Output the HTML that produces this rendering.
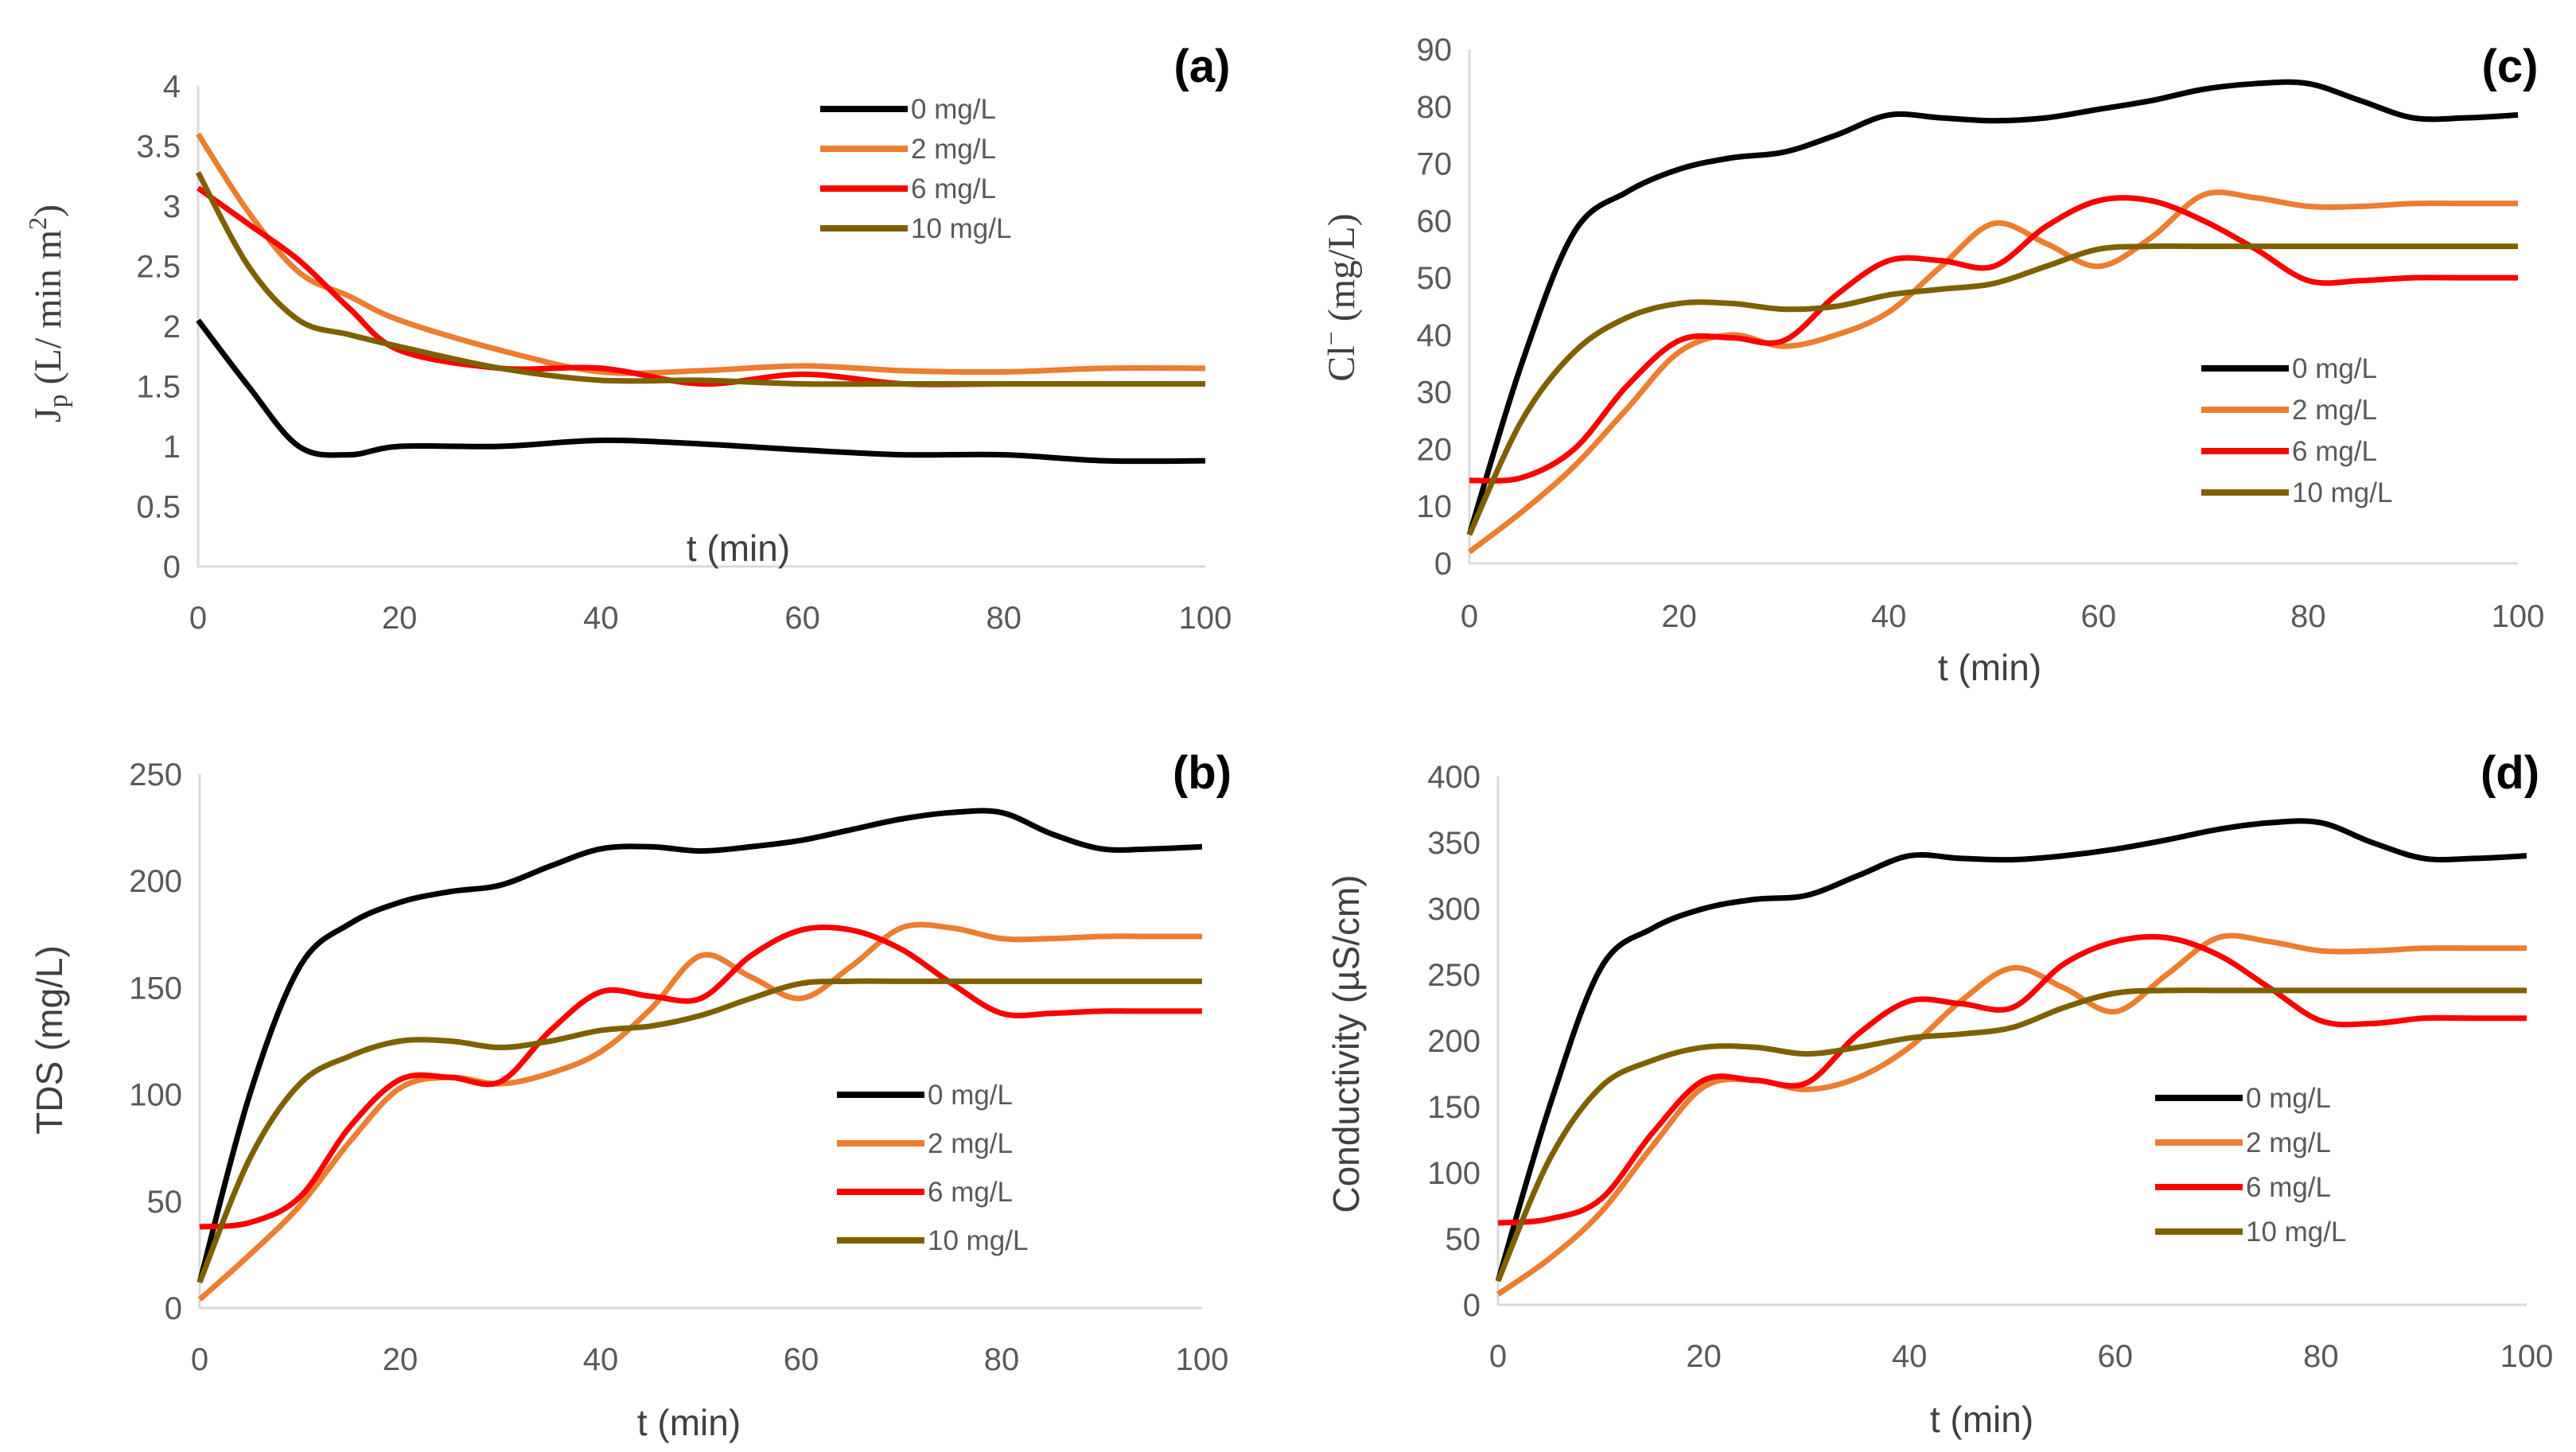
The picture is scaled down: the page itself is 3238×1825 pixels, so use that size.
<!DOCTYPE html>
<html><head><meta charset="utf-8"><style>
html,body{margin:0;padding:0;background:#fff}
svg{display:block}
.tick{font-family:"Liberation Sans",sans-serif;font-size:40px;fill:#595959}
.ttl{font-family:"Liberation Sans",sans-serif;font-size:46px;fill:#404040}
.ser{font-family:"Liberation Serif",serif;font-size:48px;fill:#404040}
.leg{font-family:"Liberation Sans",sans-serif;font-size:35px;fill:#595959}
.pl{font-family:"Liberation Sans",sans-serif;font-size:58px;font-weight:bold;fill:#000}
</style></head><body>
<svg id="fig" width="3238" height="1825" viewBox="0 0 3238 1825" xmlns="http://www.w3.org/2000/svg"></svg>
<script>
const tA=[0,5,10,15,20,30,40,50,60,70,80,90,100];
const a0=[2.05,1.5,1.0,0.93,1.0,1.0,1.05,1.02,0.97,0.93,0.93,0.88,0.88];
const a2=[3.6,2.95,2.45,2.25,2.05,1.8,1.62,1.63,1.67,1.63,1.62,1.65,1.65];
const a6=[3.15,2.85,2.55,2.15,1.8,1.65,1.65,1.52,1.6,1.52,1.52,1.52,1.52];
const a10=[3.28,2.5,2.05,1.93,1.83,1.65,1.55,1.55,1.52,1.52,1.52,1.52,1.52];
const tB=[0,5,10,15,20,25,30,35,40,45,50,55,60,65,70,75,80,85,90,95,100];
const c0=[5,35,58,65,69,71,72,75,78.5,78,77.5,78,79.5,81,83,84,84,81,78,78,78.5];
const c2=[2,9,17,27,37,40,38,40,44,52,59.5,56,52,57,64.5,64,62.5,62.5,63,63,63];
const c6=[14.5,15,20,31,39,39.5,39,47,53,53,52,59,63.5,63.5,60,55,49.5,49.5,50,50,50];
const c10=[5,25,37,43,45.5,45.5,44.5,45,47,48,49,52,55,55.5,55.5,55.5,55.5,55.5,55.5,55.5,55.5];
const b0=[12,100,160,180,190,195,198,207,215,216,214,216,219,224,229,232,232,222,215,215,216];
const b2=[4,25,48,78,103,108,105,110,120,140,165,155,145,160,178,178,173,173,174,174,174];
const b6=[38,40,52,85,107,108,106,130,148,146,145,165,177,177,168,152,138,138,139,139,139];
const b10=[12,70,105,118,125,125,122,125,130,132,137,145,152,153,153,153,153,153,153,153,153];
const d0=[18,150,255,285,300,307,310,325,340,338,337,340,345,352,360,365,365,350,338,338,340];
const d2=[8,35,70,120,165,170,163,172,195,230,255,240,222,250,278,275,268,268,270,270,270];
const d6=[62,65,80,130,170,170,168,205,230,228,225,258,275,278,265,240,215,213,217,217,217];
const d10=[18,110,165,185,195,195,190,195,202,205,210,225,236,238,238,238,238,238,238,238,238];
const xTicks=[0,20,40,60,80,100];
const aTicks=[0,0.5,1,1.5,2,2.5,3,3.5,4];
const cTicks=[0,10,20,30,40,50,60,70,80,90];
const bTicks=[0,50,100,150,200,250];
const dTicks=[0,50,100,150,200,250,300,350,400];
const legendLabels=["0 mg/L","2 mg/L","6 mg/L","10 mg/L"];
const colors=["#000000","#ED7D31","#FF0000","#7F6000"];

const NS="http://www.w3.org/2000/svg";
const svg=document.getElementById('fig');
function el(tag,attrs,parent,text){const e=document.createElementNS(NS,tag);for(const k in attrs)e.setAttribute(k,attrs[k]);if(text!==undefined)e.textContent=text;(parent||svg).appendChild(e);return e;}
function spline(pts){let d=`M${pts[0][0]},${pts[0][1]}`;for(let i=0;i<pts.length-1;i++){const p0=pts[i-1]||pts[i],p1=pts[i],p2=pts[i+1],p3=pts[i+2]||p2;const c1x=p1[0]+(p2[0]-p0[0])/6,c1y=p1[1]+(p2[1]-p0[1])/6,c2x=p2[0]-(p3[0]-p1[0])/6,c2y=p2[1]-(p3[1]-p1[1])/6;d+=` C${c1x},${c1y} ${c2x},${c2y} ${p2[0]},${p2[1]}`;}return d;}

function panel(cfg){
  const g=el('g',{});
  
  
  const X=v=>cfg.x0+(cfg.x1-cfg.x0)*v/100;
  const Y=v=>cfg.y0-(cfg.y0-cfg.y1)*v/cfg.ymax;
  const ax=el('path',{d:`M${cfg.x0},${Y(cfg.ymax)} L${cfg.x0},${cfg.y0} L${cfg.x1},${cfg.y0}`,stroke:'#d9d9d9','stroke-width':3,fill:'none'},g);
  
  
  cfg.yt.forEach(v=>{const t=el('text',{x:cfg.x0-22,y:Y(v)+14,'text-anchor':'end',class:'tick'},g,String(v));
    
    });
  xTicks.forEach(v=>{const t=el('text',{x:X(v),y:cfg.xty,'text-anchor':'middle',class:'tick'},g,String(v));
    
    });
  cfg.series.forEach((s,i)=>{const pts=cfg.t.map((tv,j)=>[X(tv),Y(s[j])]);
    const p=el('path',{d:spline(pts),stroke:colors[i],'stroke-width':7,fill:'none','stroke-linejoin':'round'},g);
    
    });
  legendLabels.forEach((lab,i)=>{const yy=cfg.ly+i*cfg.ld;
    const l=el('line',{x1:cfg.lx,x2:cfg.lx+110,y1:yy,y2:yy,stroke:colors[i],'stroke-width':8},g);
    
    
    const t=el('text',{x:cfg.lx+114,y:yy+12,class:'leg'},g,lab);
    
    });
  const xt=el('text',{x:cfg.xtx,y:cfg.xtty,'text-anchor':'middle',class:'ttl'},g,'t (min)');
  
  
  const yt=el('text',{x:0,y:0,'text-anchor':'middle',class:cfg.ycls,transform:`translate(${cfg.ytx},${cfg.yty}) rotate(-90)`},g);
  yt.innerHTML=cfg.ytitle;
  
  
  const pl=el('text',{x:cfg.plx,y:cfg.ply,'text-anchor':'middle',class:'pl'},g,cfg.label);
  
  
}
panel({name:'panel-a',x0:249,x1:1515,y0:712,y1:108,ymax:4,yt:aTicks,xty:790,t:tA,series:[a0,a2,a6,a10],lx:1031,ly:137,ld:50,xtx:928,xtty:705,ytx:76,yty:394,ycls:'ser',ytitle:'J<tspan font-size="34" dy="8">p</tspan><tspan dy="-8"> (L/ min m</tspan><tspan font-size="32" dy="-18">2</tspan><tspan dy="18">)</tspan>',plx:1511,ply:103,label:'(a)'});
panel({name:'panel-c',x0:1847,x1:3165,y0:708,y1:62,ymax:90,yt:cTicks,xty:788,t:tB,series:[c0,c2,c6,c10],lx:2767,ly:463,ld:52,xtx:2501,xtty:855,ytx:1702,yty:374,ycls:'ser',ytitle:'Cl<tspan font-size="32" dy="-18">−</tspan><tspan dy="18"> (mg/L)</tspan>',plx:3155,ply:103,label:'(c)'});
panel({name:'panel-b',x0:251,x1:1511,y0:1644,y1:973,ymax:250,yt:bTicks,xty:1722,t:tB,series:[b0,b2,b6,b10],lx:1052,ly:1376,ld:61,xtx:866,xtty:1804,ytx:78,yty:1307,ycls:'ttl',ytitle:'TDS (mg/L)',plx:1511,ply:991,label:'(b)'});
panel({name:'panel-d',x0:1883,x1:3176,y0:1640,y1:976,ymax:400,yt:dTicks,xty:1718,t:tB,series:[d0,d2,d6,d10],lx:2709,ly:1380,ld:56,xtx:2491,xtty:1800,ytx:1708,yty:1312,ycls:'ttl',ytitle:'Conductivity  (µS/cm)',plx:3155,ply:991,label:'(d)'});
</script>
</body></html>
